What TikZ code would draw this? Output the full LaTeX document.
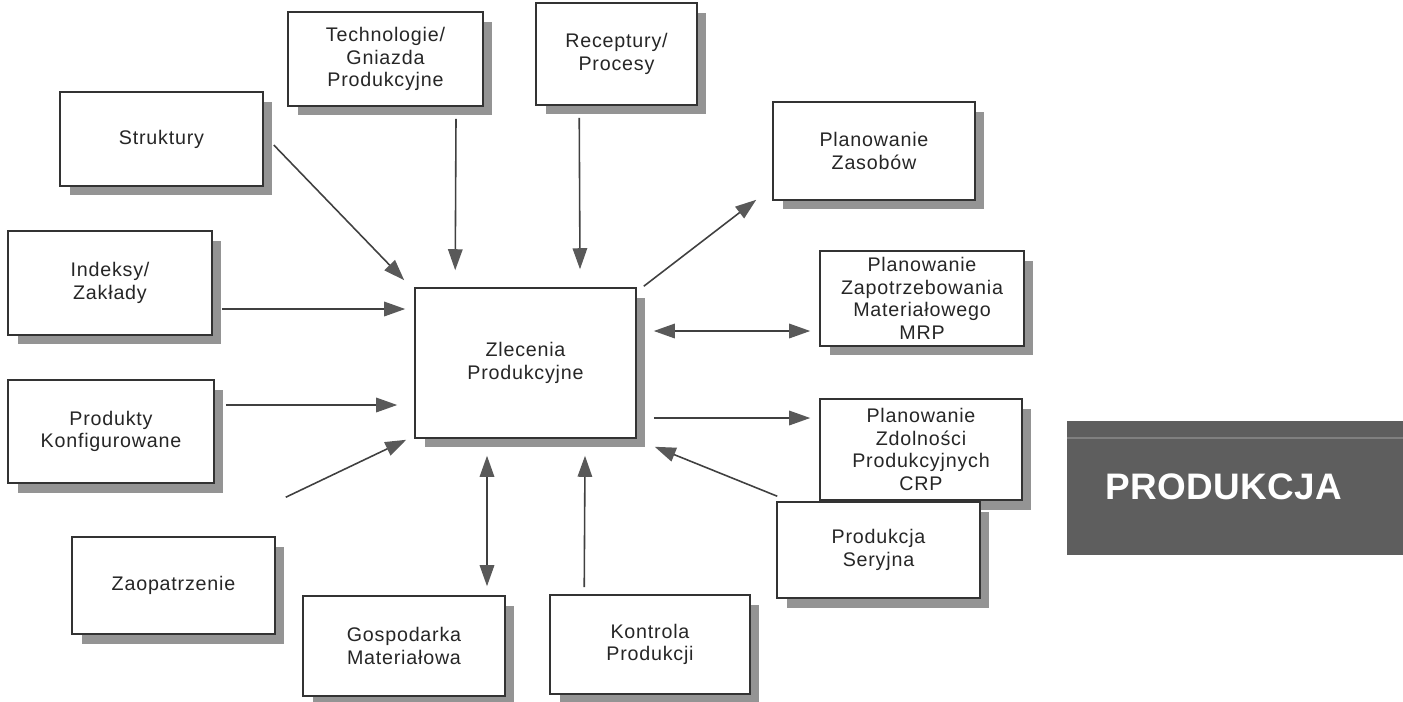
\documentclass[tikz,border=0pt]{standalone}
\usepackage{fontspec}
\setmainfont{Liberation Sans}[LetterSpace=4]
\newfontfamily\bannerfont{Liberation Sans}[LetterSpace=1]
\usetikzlibrary{arrows.meta, shadows, calc}

\begin{document}
\begin{tikzpicture}[
    x=0.02cm, y=-0.02cm,
    box/.style={rectangle, draw=black!80, line width=0.9pt, fill=white, align=center, text=black!85,
        font=\fontsize{11.2}{12.8}\selectfont, inner sep=2pt,
        drop shadow={shadow xshift=0.19cm, shadow yshift=-0.19cm, fill=black!42, opacity=1}},
    arrow/.style={-{Triangle[length=0.42cm, width=0.29cm, color=black!65]}, draw=black!75, line width=0.9pt},
    dblarrow/.style={arrow, {Triangle[length=0.42cm, width=0.29cm, color=black!65]}-{Triangle[length=0.42cm, width=0.29cm, color=black!65]}}
]
    \useasboundingbox (0,0) rectangle (1403,701);

    % central box
    \node[box, minimum width=4.42cm, minimum height=3cm] (zlec) at (525.5,363) {Zlecenia\\Produkcyjne};

    % boxes on the left and top
    \node[box, minimum width=3.9cm, minimum height=1.88cm] (tech) at (385.5,59) {Technologie/\\Gniazda\\Produkcyjne};
    \node[box, minimum width=3.22cm, minimum height=2.04cm] (rec) at (616.5,54) {Receptury/\\Procesy};
    \node[box, minimum width=4.06cm, minimum height=1.88cm] (strukt) at (161.5,139) {Struktury};
    \node[box, minimum width=4.08cm, minimum height=2.08cm] (indeks) at (110,283) {Indeksy/\\Zakłady};
    \node[box, minimum width=4.12cm, minimum height=2.06cm] (prodk) at (111,431.5) {Produkty\\Konfigurowane};
    \node[box, minimum width=4.06cm, minimum height=1.94cm] (zaop) at (173.5,585.5) {Zaopatrzenie};
    \node[box, minimum width=4.04cm, minimum height=2cm] (gosp) at (404,646) {Gospodarka\\Materiałowa};
    \node[box, minimum width=4cm, minimum height=1.98cm] (kontr) at (650,644.5) {Kontrola\\Produkcji};

    % boxes on the right
    \node[box, minimum width=4.04cm, minimum height=1.96cm] (zasob) at (874,151) {Planowanie\\Zasobów};
    \node[box, minimum width=4.08cm, minimum height=1.9cm] (mrp) at (922,298.5) {Planowanie\\Zapotrzebowania\\Materiałowego\\MRP};
    \node[box, minimum width=4.04cm, minimum height=2.02cm] (crp) at (921,449.5) {Planowanie\\Zdolności\\Produkcyjnych\\CRP};
    \node[box, minimum width=4.06cm, minimum height=1.92cm] (seryjna) at (878.5,550) {Produkcja\\Seryjna};

    % banner
    \fill[black!63] (1067,421) rectangle (1403,555);
    \draw[black!50, line width=1.5pt] (1067,438) -- (1403,438);
    \node[anchor=west, text=white, font=\bannerfont\bfseries\fontsize{21}{21}\selectfont, inner sep=0pt] (banner) at (1105,487) {PRODUKCJA};

    % connectors
    \draw[arrow] ($(strukt.east)+(10,6)$) -- ($(zlec.north west)+(-10,-7)$);
    \draw[arrow] ($(tech.south)+(70.5,12)$) -- ($(zlec.north west)+(41,-17)$);
    \draw[arrow] ($(rec.south west)+(44,12)$) -- ($(zlec.north)+(54.5,-18)$);
    \draw[arrow] ($(zlec.north east)+(7,-1)$) -- ($(zasob.south west)+(-16,-1)$);
    \draw[dblarrow] ($(zlec.east)+(17,-32)$) -- ($(mrp.west)+(-9,32.5)$);
    \draw[arrow] ($(zlec.east)+(17,55)$) -- ($(crp.west)+(-9,-31.5)$);
    \draw[arrow] ($(seryjna.north west)+(1,-5)$) -- ($(zlec.south east)+(18,8)$);
    \draw[arrow] ($(kontr.north west)+(35,-7)$) -- ($(zlec.south)+(59.5,17)$);
    \draw[dblarrow] ($(zlec.south)+(-38.5,17)$) -- ($(gosp.north)+(83,-9)$);
    \draw[arrow] ($(zaop.north east)+(10,-39)$) -- ($(zlec.south west)+(-8,1)$);
    \draw[arrow] ($(prodk.east)+(11,-26.5)$) -- ($(zlec.west)+(-17,42)$);
    \draw[arrow] ($(indeks.east)+(9,26)$) -- ($(zlec.west)+(-9,-54)$);
\end{tikzpicture}
\end{document}
